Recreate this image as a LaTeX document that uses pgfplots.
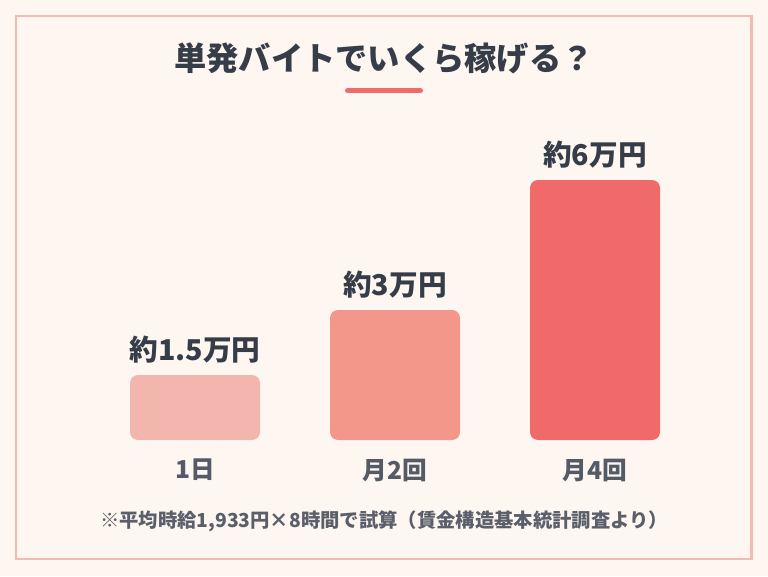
\documentclass[border=0pt]{standalone}
\usepackage{pgfplots}
\pgfplotsset{compat=1.18}
\usepackage{fontspec}
\setmainfont{Noto Sans CJK JP}
\definecolor{bg}{HTML}{FEF7F1}
\definecolor{frame}{HTML}{F2BCB4}
\definecolor{ink}{HTML}{363D48}
\definecolor{inkc}{HTML}{555B66}
\definecolor{inkf}{HTML}{5A5F6A}
\definecolor{accent}{HTML}{F06B6B}
\definecolor{b1}{HTML}{F2B6AE}
\definecolor{b2}{HTML}{F2978A}
\definecolor{b3}{HTML}{F06A6A}
\begin{document}
\begin{tikzpicture}[x=0.75pt,y=0.75pt]
\fill[bg] (0,0) rectangle (768,576);
\draw[frame,line width=1.9pt] (16,17) rectangle (751.5,560);
\node[font=\bfseries\fontsize{24.2pt}{28pt}\selectfont,text=ink] at (384,518) {単発バイトでいくら稼げる？};
\draw[accent,line width=3.75pt,line cap=round] (347.5,485.5) -- (420.5,485.5);
\begin{axis}[
  at={(71.25pt,102pt)}, anchor=south west,
  scale only axis, width=450pt, height=195pt,
  xmin=-0.5, xmax=2.5, ymin=0, ymax=6,
  axis x line=bottom, axis y line=none,
  x axis line style={draw=none},
  clip=false,
  xtick={0,1,2}, xticklabels={1日,月2回,月4回},
  ytick=\empty, major tick length=0pt,
  xticklabel style={anchor=center, yshift=-22.5pt, font=\bfseries\fontsize{18.5pt}{21pt}\selectfont, text=inkc},
  ybar, bar width=97.5pt, bar shift=0pt,
  point meta=explicit symbolic,
  nodes near coords,
  nodes near coords style={anchor=center, yshift=19pt, font=\bfseries\fontsize{21.5pt}{25pt}\selectfont, text=ink},
]
\addplot[fill=b1, draw=none, rounded corners=6pt] coordinates {(0,1.5) [約1.5万円]};
\addplot[fill=b2, draw=none, rounded corners=6pt] coordinates {(1,3) [約3万円]};
\addplot[fill=b3, draw=none, rounded corners=6pt] coordinates {(2,6) [約6万円]};
\end{axis}
\node[font=\bfseries\fontsize{14.5pt}{17pt}\selectfont,text=inkf] at (384,55) {※平均時給1,933円×8時間で試算（賃金構造基本統計調査より）};
\end{tikzpicture}
\end{document}
